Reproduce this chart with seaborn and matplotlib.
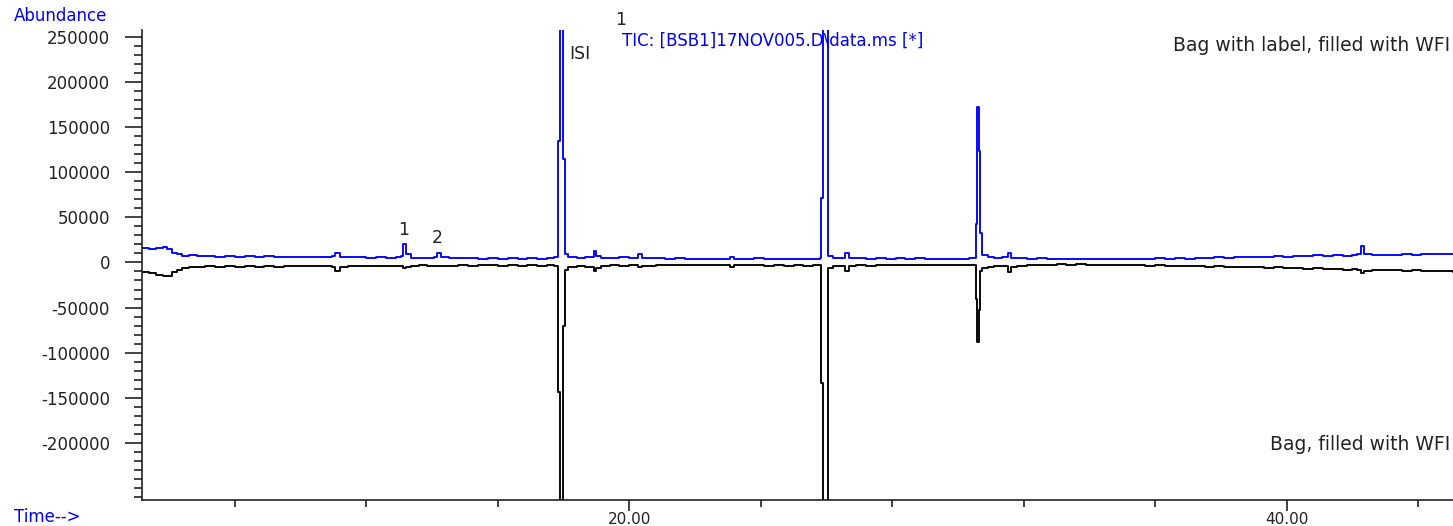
import matplotlib
matplotlib.use("Agg")
import matplotlib.pyplot as plt
import seaborn as sns
import pandas as pd
from matplotlib.ticker import MultipleLocator, FixedLocator

# retention time (min) shared by both TIC traces
ret_time = [
    5.18, 5.4, 5.6, 5.8, 5.95, 6.1, 6.25, 6.4, 6.6, 6.85,
    7.1, 7.4, 7.7, 8.0, 8.3, 8.6, 8.9, 9.2, 9.5, 9.8,
    10.1, 10.4, 10.7, 10.95, 11.05, 11.2, 11.45, 11.7, 12.0, 12.3,
    12.6, 12.9, 13.05, 13.13, 13.22, 13.35, 13.6, 13.85, 14.05, 14.15,
    14.28, 14.5, 14.8, 15.1, 15.4, 15.7, 16.0, 16.3, 16.6, 16.9,
    17.2, 17.5, 17.7, 17.82, 17.88, 17.98, 18.03, 18.15, 18.4, 18.65,
    18.85, 18.93, 19.0, 19.15, 19.4, 19.7, 20.0, 20.25, 20.4, 20.8,
    21.1, 21.4, 21.7, 22.0, 22.3, 22.6, 22.9, 23.06, 23.2, 23.5,
    23.8, 24.1, 24.4, 24.7, 25.0, 25.3, 25.6, 25.8, 25.83, 25.89,
    26.04, 26.2, 26.4, 26.57, 26.68, 26.9, 27.2, 27.5, 27.8, 28.1,
    28.4, 28.7, 29.0, 29.3, 29.6, 29.9, 30.15, 30.35, 30.5, 30.55,
    30.59, 30.64, 30.68, 30.73, 30.9, 31.1, 31.35, 31.52, 31.6, 31.8,
    32.1, 32.4, 32.7, 33.0, 33.3, 33.6, 33.9, 34.2, 34.5, 34.8,
    35.1, 35.4, 35.7, 36.0, 36.3, 36.6, 36.9, 37.2, 37.5, 37.8,
    38.1, 38.4, 38.7, 39.0, 39.3, 39.6, 39.9, 40.2, 40.5, 40.8,
    41.1, 41.4, 41.7, 42.0, 42.15, 42.25, 42.35, 42.6, 42.9, 43.2,
    43.5, 43.8, 44.1, 44.4, 44.7, 45.06,
]

# bag with label, filled with WFI (blue, upper trace)
labelled_bag = [
    16000, 15000, 16500, 17500, 15000, 11000, 9000, 7500, 8000, 7000,
    7500, 6500, 7200, 6300, 7000, 6000, 6800, 6000, 6500, 5800,
    6300, 5600, 6000, 7000, 10500, 6500, 5800, 6200, 5500, 6000,
    5300, 5800, 7000, 20500, 9000, 5500, 4800, 5300, 6500, 10500,
    6000, 5200, 4600, 5000, 4400, 4900, 4300, 4800, 4200, 4700,
    4300, 5200, 6000, 135000, 400000, 115000, 9000, 6500, 5500, 6000,
    6500, 13000, 7500, 5500, 5000, 5600, 4800, 9000, 5400, 4600,
    4000, 4500, 3800, 4300, 3600, 4100, 3500, 6000, 4200, 3700,
    4600, 3800, 4300, 3700, 4400, 3800, 4200, 5000, 72000, 400000,
    7000, 5500, 5000, 10000, 5500, 4700, 4200, 4800, 4100, 4600,
    4000, 4500, 3900, 4400, 3800, 4300, 3700, 4500, 4500, 43000,
    172000, 124000, 33000, 8000, 6000, 5200, 5800, 11000, 5500, 4700,
    4200, 4600, 3900, 4300, 3500, 4000, 3400, 4100, 3600, 4200,
    3700, 4400, 3900, 4600, 4100, 4800, 4300, 5200, 4700, 5600,
    5100, 6200, 5600, 6600, 6000, 7200, 6600, 7600, 7000, 7900,
    7300, 8200, 7600, 8400, 9000, 18000, 9000, 8200, 8800, 8300,
    9200, 8700, 9500, 9000, 9800, 9500,
]

# bag filled with WFI (black, mirrored trace)
plain_bag = [
    -11000, -12000, -13500, -15500, -14500, -11000, -8500, -6500, -5500, -5000,
    -4200, -4800, -4000, -4600, -3900, -4500, -3800, -5200, -4000, -4400,
    -3700, -4200, -3600, -4500, -9500, -5500, -3800, -4200, -3500, -4000,
    -3400, -3900, -4200, -6000, -4500, -3800, -3300, -3700, -3500, -4000,
    -3400, -3600, -3200, -3800, -3300, -2900, -3500, -3000, -3600, -3100,
    -3700, -3300, -3800, -144000, -400000, -70000, -8000, -5000, -3800, -4500,
    -5000, -10000, -6000, -4000, -3200, -3800, -2800, -5000, -3500, -3000,
    -2500, -3200, -2600, -3000, -2400, -3100, -2500, -4500, -3300, -2600,
    -3000, -3500, -2700, -3400, -2800, -3600, -3000, -3200, -134000, -400000,
    -6000, -4000, -3500, -9000, -4000, -3000, -3500, -2800, -3300, -2600,
    -3200, -2500, -3100, -2700, -3300, -2600, -3200, -2800, -3000, -40000,
    -88000, -53000, -9000, -6000, -4500, -3800, -4200, -11000, -5000, -3500,
    -3000, -2400, -2900, -2200, -2800, -2000, -2600, -2300, -3000, -2500,
    -3300, -2800, -3600, -3100, -3900, -3400, -4200, -3800, -4600, -4100,
    -5000, -4600, -5400, -5000, -5900, -5500, -6400, -6000, -7000, -6500,
    -7400, -6900, -7800, -7300, -8000, -12000, -9000, -8200, -8800, -8400,
    -9200, -8700, -9500, -9100, -10000, -10500,
]

x_labels = ["20.00", "40.00"]

sns.set_style("ticks")
plt.rcParams["font.family"] = ["DejaVu Sans"]
plt.rcParams["axes.unicode_minus"] = False

df = pd.DataFrame({"time": ret_time, "labelled": labelled_bag, "plain": plain_bag})

W, H = 1453, 526
fig = plt.figure(figsize=(W / 100, H / 100), dpi=100)
ax = fig.add_axes([142 / W, 26 / H, 1 - 142 / W, 470 / H])

sns.lineplot(data=df, x="time", y="plain", ax=ax, color="black", linewidth=1.35,
             drawstyle="steps-post", estimator=None, sort=False)
sns.lineplot(data=df, x="time", y="labelled", ax=ax, color="#0000ff", linewidth=1.35,
             drawstyle="steps-post", estimator=None, sort=False)

ax.set_xlim(5.175, 45.06)
ax.set_ylim(-263600, 258000)
ax.set_xlabel("")
ax.set_ylabel("")

for side in ["top", "right"]:
    ax.spines[side].set_visible(False)
for side in ["left", "bottom"]:
    ax.spines[side].set_linewidth(1.2)
    ax.spines[side].set_color("#222222")

ax.xaxis.set_major_locator(FixedLocator([20, 40]))
ax.set_xticklabels(x_labels)
ax.xaxis.set_minor_locator(MultipleLocator(4))
ax.yaxis.set_major_locator(FixedLocator(list(range(-200000, 250001, 50000))))
ax.yaxis.set_minor_locator(MultipleLocator(10000))
ax.set_yticklabels([str(v) for v in range(-200000, 250001, 50000)])

ax.tick_params(axis="y", which="major", length=12, width=1.2, pad=11,
               labelsize=12, colors="#222222")
ax.tick_params(axis="y", which="minor", length=6, width=1.2, colors="#222222")
ax.tick_params(axis="x", which="major", length=8, width=1.2, pad=0.5,
               labelsize=11, colors="#222222")
ax.tick_params(axis="x", which="minor", length=5, width=1.2, colors="#222222")

# peak labels
ax.text(13.12, 36000, "1", ha="center", va="center", fontsize=12.5, color="#222222")
ax.text(14.15, 27000, "2", ha="center", va="center", fontsize=12.5, color="#222222")
ax.text(18.17, 231000, "ISI", ha="left", va="center", fontsize=12.5, color="#222222")
ax.text(19.75, 269000, "1", ha="center", va="center", fontsize=12.5, color="#222222")
ax.text(19.78, 246000, "TIC: [BSB1]17NOV005.D\\data.ms [*]", ha="left", va="center",
        fontsize=12, color="#0000ff")
ax.text(44.97, 241000, "Bag with label, filled with WFI", ha="right", va="center",
        fontsize=13.5, color="#222222")
ax.text(44.97, -202000, "Bag, filled with WFI", ha="right", va="center",
        fontsize=13.5, color="#222222")

fig.text(14 / W, 1 - 16 / H, "Abundance", ha="left", va="center", fontsize=12,
         color="#0000ff")
fig.text(14 / W, 1 - 517 / H, "Time-->", ha="left", va="center", fontsize=12,
         color="#0000ff")

fig.savefig("out.png", dpi=100)
